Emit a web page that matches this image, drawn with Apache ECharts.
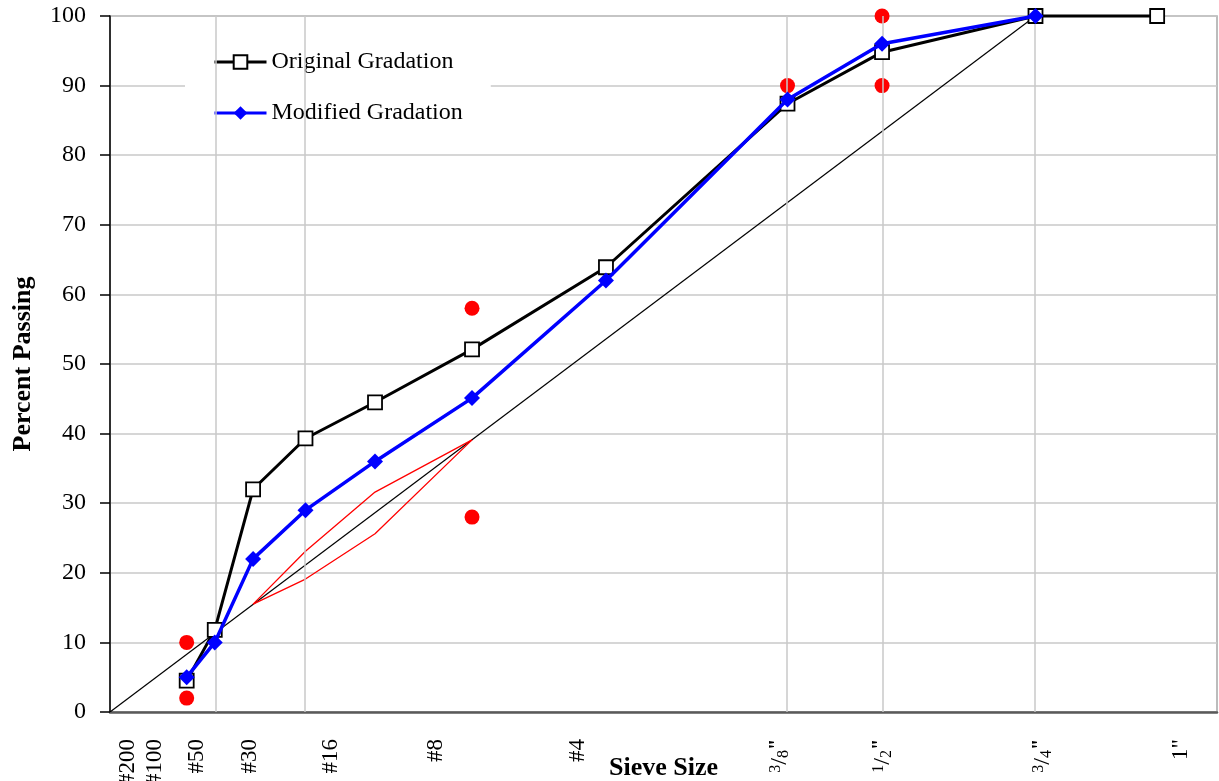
<!DOCTYPE html>
<html>
<head>
<meta charset="utf-8">
<title>Gradation Chart</title>
<script src="https://cdn.jsdelivr.net/npm/echarts@6/dist/echarts.min.js"></script>
<style>
  html, body { margin: 0; padding: 0; background: #ffffff; }
  #chart { width: 1219px; height: 781px; }
</style>
</head>
<body>
<div id="chart"></div>
<script>
// Sieve sizes (mm) and their labels
const sieveNames = ['#200', '#100', '#50', '#30', '#16', '#8', '#4', '3/8"', '1/2"', '3/4"', '1"'];
const sieveMm = [0.075, 0.15, 0.3, 0.6, 1.18, 2.36, 4.75, 9.5, 12.7, 19, 25];

// Percent passing for each gradation
const originalPassing = [4.5, 11.8, 32.0, 39.3, 44.5, 52.1, 63.9, 87.4, 94.8, 100, 100];
const modifiedPassing = [5, 10, 22, 29, 36, 45.1, 62, 88, 96, 100];

// Control points
const controlMm = [0.075, 0.075, 2.36, 2.36, 9.5, 12.7, 12.7];
const controlPassing = [2, 10, 28, 58, 90, 90, 100];

// Restricted zone boundaries
const zoneMm = [0.3, 0.6, 1.18, 2.36];
const zoneUpper = [15.5, 23.1, 31.6, 39.1];
const zoneLower = [15.5, 19.1, 25.6, 39.1];

// Maximum density line
const maxDensityMm = [0, 19];
const maxDensityPassing = [0, 100];

// Sieves that carry a vertical reference line
const gridSieveMm = [0.15, 0.6, 9.5, 12.7, 19];

// Where each sieve label sits along the 0.45-power axis
const tickLabelAt = [0.074, 0.181, 0.353, 0.570, 0.900, 1.323, 1.904, 2.724, 3.141, 3.792, 4.354];

// 0.45 power scale for the horizontal axis
const POWER = 0.45;
const pw = mm => Math.pow(mm, POWER);
const pairs = (xs, ys) => ys.map((y, i) => [pw(xs[i]), y]);

const FONT = 'Liberation Serif';

// Fractional inch sizes are set as a small raised numerator and a lowered denominator
function sieveLabel(name) {
  const m = /^(\d)\/(\d)"$/.exec(name);
  if (m) return '{num|' + m[1] + '}{sl|/}{den|' + m[2] + '}{q|"}';
  return name;
}

const chart = echarts.init(document.getElementById('chart'), null, { renderer: 'canvas' });

const option = {
  backgroundColor: '#ffffff',
  animation: false,
  grid: {
    left: 110, right: 2, top: 16, bottom: 69,
    containLabel: false,
    outerBoundsMode: 'none',
    show: true, borderColor: '#a6a6a6', borderWidth: 1.5, backgroundColor: 'transparent'
  },
  legend: {
    orient: 'vertical',
    left: 185, top: 30,
    z: 1,
    backgroundColor: '#ffffff',
    padding: [20, 28, 20, 28],
    itemWidth: 52, itemHeight: 17, itemGap: 27,
    lineStyle: { width: 3 },
    textStyle: { fontFamily: FONT, fontSize: 24, color: '#000' },
    data: ['Original Gradation', 'Modified Gradation']
  },
  xAxis: {
    type: 'value',
    min: 0, max: 4.5,
    name: 'Sieve Size',
    nameLocation: 'middle',
    nameGap: 43,
    nameMoveOverlap: false,
    nameTextStyle: { fontFamily: FONT, fontSize: 26, fontWeight: 'bold', color: '#000' },
    axisLine: { lineStyle: { color: '#5a5a5a', width: 2.5 } },
    axisTick: { show: false },
    splitLine: { show: false },
    axisLabel: {
      customValues: tickLabelAt,
      rotate: 90,
      margin: 27,
      fontFamily: FONT, fontSize: 23, color: '#000',
      rich: {
        num: { fontFamily: FONT, fontSize: 16, color: '#000', verticalAlign: 'top', lineHeight: 24 },
        sl: { fontFamily: FONT, fontSize: 24, color: '#000', lineHeight: 24 },
        den: { fontFamily: FONT, fontSize: 16, color: '#000', verticalAlign: 'bottom', lineHeight: 24 },
        q: { fontFamily: FONT, fontSize: 20, fontWeight: 'bold', color: '#000', verticalAlign: 'top', lineHeight: 24 }
      },
      formatter: function (v) {
        let best = 0;
        tickLabelAt.forEach((t, i) => { if (Math.abs(t - v) < Math.abs(tickLabelAt[best] - v)) best = i; });
        return sieveLabel(sieveNames[best]);
      }
    }
  },
  yAxis: {
    type: 'value',
    min: 0, max: 100, interval: 10,
    name: 'Percent Passing',
    nameLocation: 'middle',
    nameGap: 74,
    nameMoveOverlap: false,
    nameTextStyle: { fontFamily: FONT, fontSize: 26, fontWeight: 'bold', color: '#000' },
    axisLine: { show: true, lineStyle: { color: '#000', width: 1.5 } },
    axisTick: { show: true, inside: false, length: 10, lineStyle: { color: '#000', width: 1.5 } },
    axisLabel: { margin: 24, fontFamily: FONT, fontSize: 24, color: '#000' },
    splitLine: { show: true, lineStyle: { color: '#c8c8c8', width: 1.5 } }
  },
  series: [
    {
      name: 'sieve lines',
      type: 'line',
      data: [],
      z: 2,
      markLine: {
        silent: true,
        symbol: ['none', 'none'],
        label: { show: false },
        lineStyle: { color: '#c8c8c8', width: 1.5, type: 'solid' },
        data: gridSieveMm.map(mm => ({ xAxis: pw(mm) }))
      }
    },
    {
      name: 'Maximum Density',
      type: 'line',
      data: pairs(maxDensityMm, maxDensityPassing),
      symbol: 'none',
      lineStyle: { color: '#000', width: 1.2 },
      z: 3
    },
    {
      name: 'Restricted Zone Upper',
      type: 'line',
      data: pairs(zoneMm, zoneUpper),
      symbol: 'none',
      lineStyle: { color: '#ff0000', width: 1.3 },
      z: 3
    },
    {
      name: 'Restricted Zone Lower',
      type: 'line',
      data: pairs(zoneMm, zoneLower),
      symbol: 'none',
      lineStyle: { color: '#ff0000', width: 1.3 },
      z: 3
    },
    {
      name: 'Control Points',
      type: 'scatter',
      data: pairs(controlMm, controlPassing),
      symbol: 'circle',
      symbolSize: 15,
      itemStyle: { color: '#ff0000', opacity: 1 },
      clip: false,
      z: 4
    },
    {
      name: 'Original Gradation',
      type: 'line',
      data: pairs(sieveMm, originalPassing),
      symbol: 'rect',
      symbolSize: 14,
      showAllSymbol: true,
      lineStyle: { color: '#000', width: 3 },
      itemStyle: { color: '#ffffff', borderColor: '#000', borderWidth: 1.8 },
      clip: false,
      z: 5
    },
    {
      name: 'Modified Gradation',
      type: 'line',
      data: pairs(sieveMm, modifiedPassing),
      symbol: 'diamond',
      symbolSize: 16,
      showAllSymbol: true,
      lineStyle: { color: '#0000ff', width: 3.5 },
      itemStyle: { color: '#0000ff' },
      clip: false,
      z: 6
    }
  ]
};

chart.setOption(option);
</script>
</body>
</html>
